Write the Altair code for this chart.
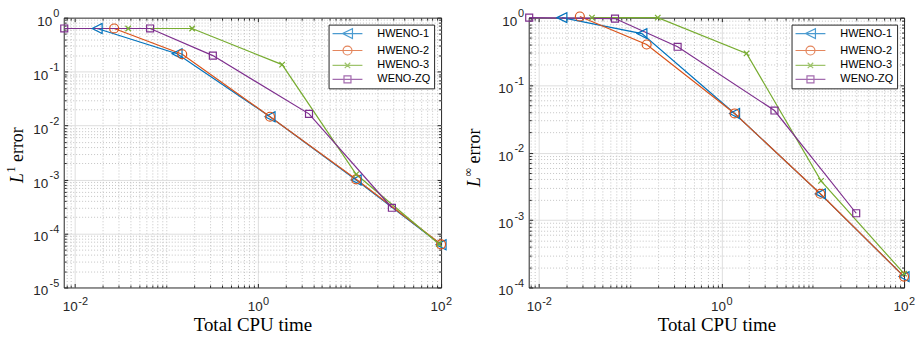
import json
import altair as alt
import pandas as pd

# ---------------- data ----------------
series = ["HWENO-1", "HWENO-2", "HWENO-3", "WENO-ZQ"]
colors = ["#0072BD", "#D95319", "#77AC30", "#7E2F8E"]

# left panel: L1 error vs total CPU time
h1_t1 = [0.0174, 0.130, 1.35, 11.8, 100]
h1_e1 = [0.63, 0.215, 0.0146, 0.00098, 6.2e-5]
h2_t1 = [0.0267, 0.148, 1.35, 11.8, 100]
h2_e1 = [0.63, 0.21, 0.0146, 0.00101, 6.3e-5]
h3_t1 = [0.038, 0.19, 1.83, 11.8, 95]
h3_e1 = [0.63, 0.63, 0.135, 0.00125, 6.4e-5]
zq_t1 = [0.0076, 0.066, 0.32, 3.6, 29]
zq_e1 = [0.63, 0.63, 0.198, 0.0165, 3.0e-4]

# right panel: L-infinity error vs total CPU time
h1_t2 = [0.0178, 0.134, 1.39, 12.1, 100]
h1_e2 = [1.0, 0.58, 0.038, 0.00244, 1.45e-4]
h2_t2 = [0.028, 0.151, 1.39, 12.1, 100]
h2_e2 = [1.04, 0.40, 0.038, 0.00245, 1.45e-4]
h3_t2 = [0.038, 0.20, 1.88, 12.3, 100]
h3_e2 = [1.0, 1.0, 0.295, 0.0038, 1.6e-4]
zq_t2 = [0.0078, 0.068, 0.33, 3.8, 29.9]
zq_e2 = [1.0, 0.97, 0.37, 0.042, 0.00126]

# tick labels (10^exp)
x_major = [0.01, 1, 100]
x_exp = ["-2", "0", "2"]
y_major_1 = [1, 0.1, 0.01, 0.001, 0.0001, 1e-05]
y_exp_1 = ["0", "-1", "-2", "-3", "-4", "-5"]
y_major_2 = [1, 0.1, 0.01, 0.001, 0.0001]
y_exp_2 = ["0", "-1", "-2", "-3", "-4"]

x_title = "Total CPU time"
y_sup_1 = "1"
y_sup_2 = "\u221e"

# ---------------- styling ----------------
SANS = "Liberation Sans"
SERIF = "Liberation Serif"
AX = "#262626"
GRID_MAJ = "#dedede"
GRID_MIN = "#c4c4c4"

data_paths = [
    "M-1,0L1,-1L1,1Z",
    "M0.9,0A0.9,0.9,0,1,1,-0.9,0A0.9,0.9,0,1,1,0.9,0Z",
    "M-0.55,-0.55L0.55,0.55M-0.55,0.55L0.55,-0.55",
    "M-0.7,-0.7L0.7,-0.7L0.7,0.7L-0.7,0.7Z",
]
# legend symbols: line segment with the marker in its middle
legend_paths = [
    "M-3,0L3,0M-1,0L1,-1L1,1Z",
    "M-3,0L3,0M0.9,0A0.9,0.9,0,1,1,-0.9,0A0.9,0.9,0,1,1,0.9,0Z",
    "M-3,0L3,0M-0.55,-0.55L0.55,0.55M-0.55,0.55L0.55,-0.55",
    "M-3,0L3,0M-0.7,-0.7L0.7,-0.7L0.7,0.7L-0.7,0.7Z",
]


def frame(times, errs):
    rows = []
    for name, t, e in zip(series, times, errs):
        for ti, ei in zip(t, e):
            rows.append({"method": name, "t": ti, "err": ei})
    return pd.DataFrame(rows)


def decade_ticks(kmin, kmax, lo, hi):
    vals = []
    for k in range(kmin, kmax + 1):
        for m in range(1, 10):
            v = round(m * 10.0 ** k, 12)
            if lo * 0.999 <= v <= hi * 1.001:
                vals.append(v)
    return vals


def in_list(vals):
    return f"indexof({json.dumps(vals)}, datum.value) >= 0"


def ternary(vals, outs, default="''"):
    expr = default
    for v, o in reversed(list(zip(vals, outs))):
        expr = f"datum.value == {json.dumps(v)} ? '{o}' : {expr}"
    return expr


def cond(test, a, b):
    return {"condition": {"test": test, "value": a}, "value": b}


def panel(df, xdom, ydom, ymaj, yexp, w, h, sup, sup_w, tx, ty):
    xall = decade_ticks(-3, 2, xdom[0], xdom[1])
    yall = decade_ticks(-6, 0, ydom[0], ydom[1])
    xmin_t = [v for v in xall if v not in x_major]
    ymin_t = [v for v in yall if v not in ymaj]
    xs = alt.Scale(type="log", domain=xdom, nice=False)
    ys = alt.Scale(type="log", domain=ydom, nice=False)
    cs = alt.Scale(domain=series, range=colors)

    xmaj_t = in_list(x_major)
    ymaj_t = in_list(ymaj)
    xneg = in_list([v for v, e in zip(x_major, x_exp) if e.startswith("-")])
    yneg = in_list([v for v, e in zip(ymaj, yexp) if e.startswith("-")])
    xedge = f"datum.value <= {xdom[0] * 1.001} || datum.value >= {xdom[1] * 0.999}"
    yedge = f"datum.value <= {ydom[0] * 1.001} || datum.value >= {ydom[1] * 0.999}"

    x_main = alt.Axis(
        orient="bottom", values=xall, labelExpr=f"{xmaj_t} ? '10' : ''",
        ticks=False, tickSize=0, domain=False, labelOverlap=False, labelFlush=False,
        labelFont=SANS, labelFontSize=13.5, labelColor=AX, labelPadding=12,
        labelOffset=cond(xneg, -5.4, -3.5),
        grid=True, gridColor=cond(xmaj_t, GRID_MAJ, GRID_MIN),
        gridDash=cond(xmaj_t, [], [1, 2]), gridWidth=1,
        gridOpacity=cond(xedge, 0, 1),
        title=x_title, titleFont=SERIF, titleFontSize=19, titleFontWeight="normal",
        titleColor="black", titlePadding=3,
    )
    y_main = alt.Axis(
        orient="left", values=yall, labelExpr=f"{ymaj_t} ? '10' : ''",
        ticks=False, tickSize=0, domain=False, labelOverlap=False, labelFlush=False,
        labelFont=SANS, labelFontSize=13.5, labelColor=AX,
        labelPadding=cond(yneg, 16, 12), labelOffset=3.5,
        grid=True, gridColor=cond(ymaj_t, GRID_MAJ, GRID_MIN),
        gridDash=cond(ymaj_t, [], [1, 2]), gridWidth=1,
        gridOpacity=cond(yedge, 0, 1), title=None,
    )
    x_exp_ax = alt.Axis(
        orient="bottom", values=x_major, labelExpr=ternary(x_major, x_exp),
        ticks=False, tickSize=0, domain=False, grid=False, labelOverlap=False,
        labelFlush=False, labelFont=SANS, labelFontSize=11, labelColor=AX,
        labelAlign="left", labelPadding=8, labelOffset=cond(xneg, 2.6, 4.5),
        title=None,
    )
    y_exp_ax = alt.Axis(
        orient="left", values=ymaj, labelExpr=ternary(ymaj, yexp),
        ticks=False, tickSize=0, domain=False, grid=False, labelOverlap=False,
        labelFlush=False, labelFont=SANS, labelFontSize=11, labelColor=AX,
        labelAlign="right", labelPadding=5, labelOffset=-4, title=None,
    )

    def tick_axis(orient, vals, size):
        return alt.Axis(
            orient=orient, values=vals, offset=-size, tickSize=size, ticks=True,
            labels=False, domain=False, grid=False, title=None,
            tickColor=AX, tickWidth=1,
        )

    base = alt.Chart(df)
    lines = base.mark_line(strokeWidth=1.2).encode(
        x=alt.X("t:Q", scale=xs, axis=x_main),
        y=alt.Y("err:Q", scale=ys, axis=y_main),
        color=alt.Color("method:N", scale=cs, legend=None),
    )
    pts = base.mark_point(filled=False, size=100, strokeWidth=1.2, opacity=1).encode(
        x=alt.X("t:Q", scale=xs, axis=None),
        y=alt.Y("err:Q", scale=ys, axis=None),
        color=alt.Color("method:N", scale=cs, legend=None),
        shape=alt.Shape("method:N", scale=alt.Scale(domain=series, range=data_paths), legend=None),
    )
    leg = base.transform_filter("false").mark_point(filled=False, size=100, strokeWidth=1.2).encode(
        x=alt.X("t:Q", scale=xs, axis=x_exp_ax),
        y=alt.Y("err:Q", scale=ys, axis=y_exp_ax),
        color=alt.Color("method:N", scale=cs, legend=alt.Legend(title=None)),
        shape=alt.Shape("method:N", scale=alt.Scale(domain=series, range=legend_paths),
                        legend=alt.Legend(title=None)),
    )

    def tick_layer(xo, yo, xv, yv, size):
        return base.transform_filter("false").mark_point(opacity=0).encode(
            x=alt.X("t:Q", scale=xs, axis=tick_axis(xo, xv, size)),
            y=alt.Y("err:Q", scale=ys, axis=tick_axis(yo, yv, size)),
        )

    ticks = [
        tick_layer("bottom", "left", x_major, ymaj, 4),
        tick_layer("bottom", "left", xmin_t, ymin_t, 2.5),
        tick_layer("top", "right", x_major, ymaj, 4),
        tick_layer("top", "right", xmin_t, ymin_t, 2.5),
    ]

    def tl(txt, dx, dy, fs, style):
        return alt.Chart(pd.DataFrame({"k": [0]})).mark_text(
            text=txt, angle=270, align="left", baseline="alphabetic", dx=dx, dy=dy,
            font=SERIF, fontSize=fs, fontStyle=style, color="black",
        ).encode(x=alt.value(tx), y=alt.value(ty))

    titles = [
        tl("L", 0, 0, 18, "italic"),
        tl(sup, 10.5, -8, 12, "normal"),
        tl("error", 10.5 + sup_w + 4.5, 0, 18, "normal"),
    ]

    return alt.layer(*ticks, lines, pts, leg, *titles).resolve_scale(
        color="independent", shape="independent"
    ).resolve_axis(x="independent", y="independent").properties(width=w, height=h)


left = panel(
    frame([h1_t1, h2_t1, h3_t1, zq_t1], [h1_e1, h2_e1, h3_e1, zq_e1]),
    [0.0075, 100], [1e-05, 1], y_major_1, y_exp_1, 379, 271, y_sup_1, 6, -41, 166,
)
right = panel(
    frame([h1_t2, h2_t2, h3_t2, zq_t2], [h1_e2, h2_e2, h3_e2, zq_e2]),
    [0.0077, 100], [1e-04, 1], y_major_2, y_exp_2, 377, 271, y_sup_2, 8.6, -49, 170,
)

chart = alt.hconcat(left, right, spacing=8).resolve_scale(
    color="independent", shape="independent", x="independent", y="independent"
).properties(
    padding={"left": 4, "top": 6, "right": 0, "bottom": 0}, background="white"
).configure_view(stroke=AX, strokeWidth=1).configure_legend(
    orient="top-right", offset=7, fillColor="white", strokeColor=AX, strokeWidth=1,
    padding=3, cornerRadius=0, labelFont=SANS, labelFontSize=11, labelColor="black",
    labelOffset=24, symbolOffset=10, symbolSize=100, symbolStrokeWidth=1.2,
    rowPadding=2, labelLimit=200,
)

chart.save("out.html", embed_options={"renderer": "svg", "actions": False})
